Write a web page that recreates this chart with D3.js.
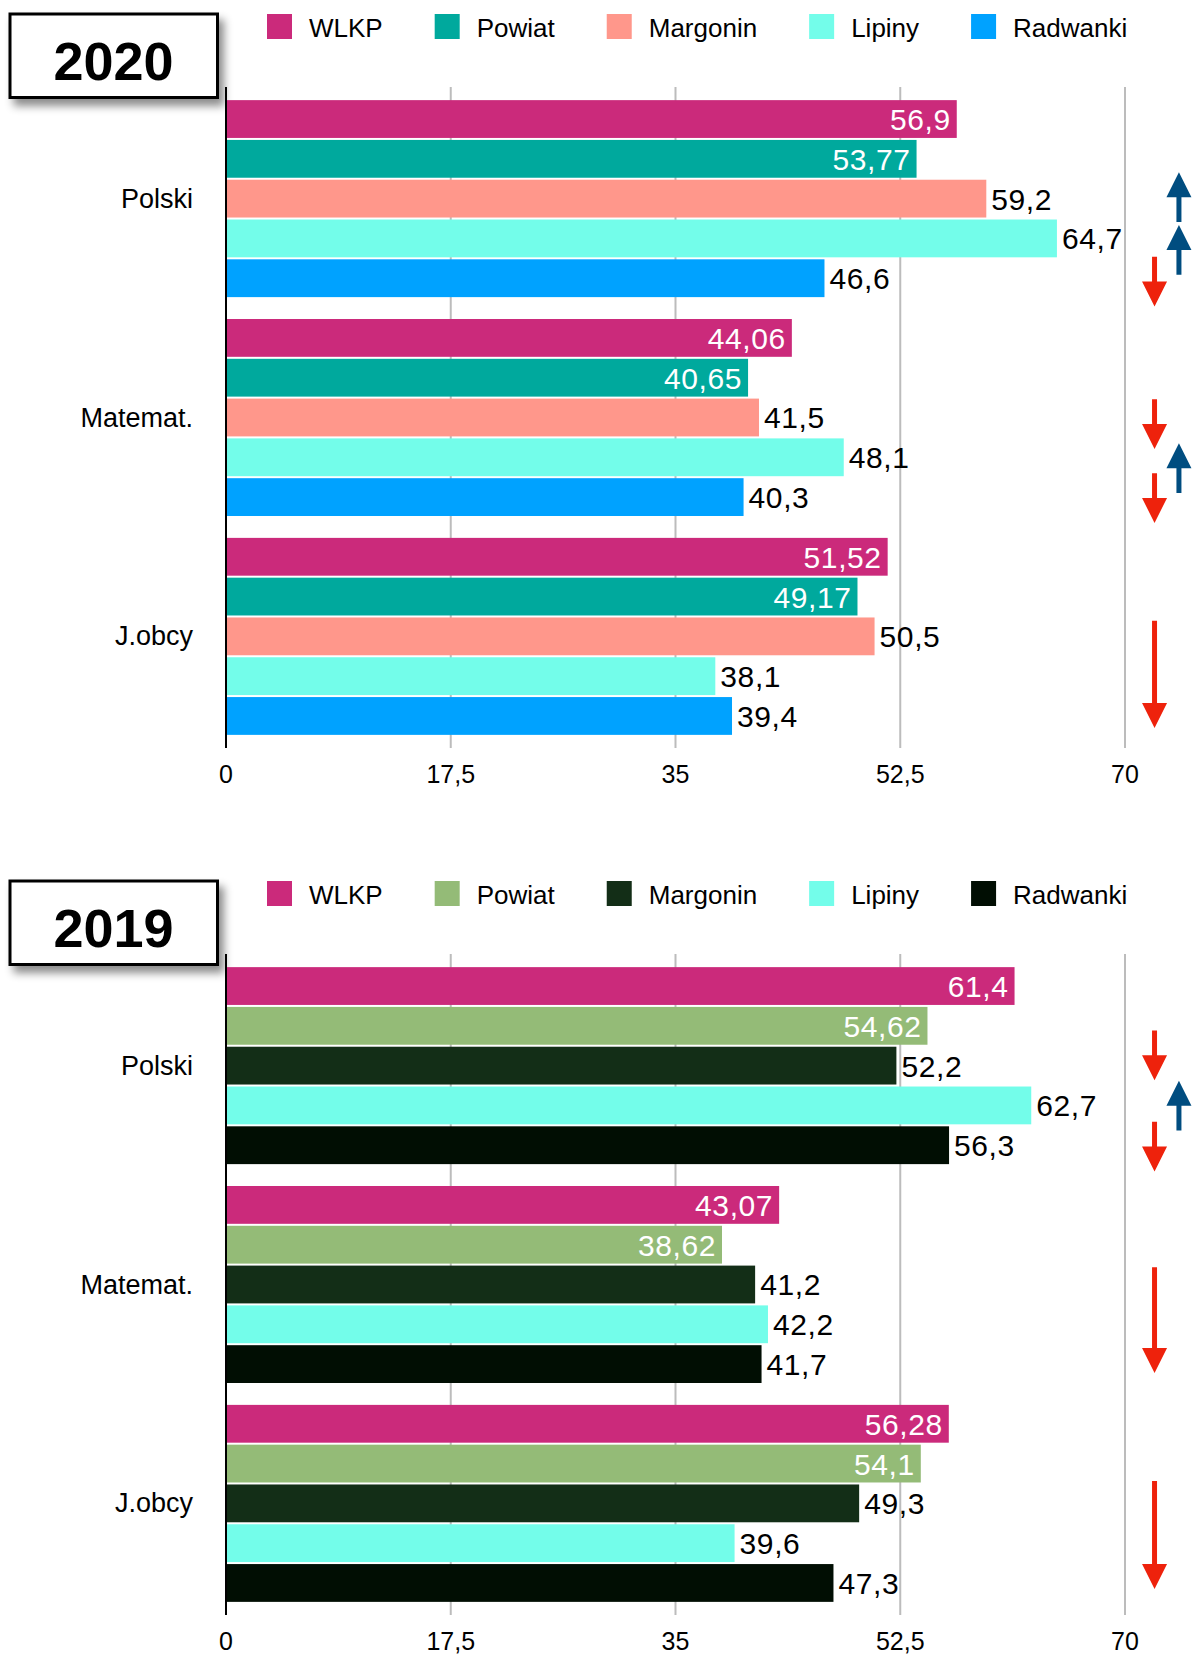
<!DOCTYPE html>
<html><head><meta charset="utf-8">
<script src="https://cdn.jsdelivr.net/npm/d3@7/dist/d3.min.js"></script>
<style>
html,body{margin:0;padding:0;background:#fff;}
svg{display:block;font-family:"Liberation Sans",Arial,Helvetica,sans-serif;}
</style></head><body>
<svg id="chart" width="1193" height="1655"></svg>
<script>
const categories = ["Polski", "Matemat.", "J.obcy"];
const seriesNames = ["WLKP", "Powiat", "Margonin", "Lipiny", "Radwanki"];
const xTicks = [0, 17.5, 35, 52.5, 70];
const xTickLabels = ["0", "17,5", "35", "52,5", "70"];

const years = ["2020", "2019"];
const colors2020 = ["#CB2A7B", "#00A99D", "#FF978B", "#73FDEA", "#00A2FF"];
const colors2019 = ["#CB2A7B", "#94BB77", "#132E17", "#73FDEA", "#010E03"];

// values per category: [WLKP, Powiat, Margonin, Lipiny, Radwanki]
const values2020 = [
  [56.9, 53.77, 59.2, 64.7, 46.6],
  [44.06, 40.65, 41.5, 48.1, 40.3],
  [51.52, 49.17, 50.5, 38.1, 39.4]
];
const values2019 = [
  [61.4, 54.62, 52.2, 62.7, 56.3],
  [43.07, 38.62, 41.2, 42.2, 41.7],
  [56.28, 54.1, 49.3, 39.6, 47.3]
];
const labels2020 = [
  ["56,9", "53,77", "59,2", "64,7", "46,6"],
  ["44,06", "40,65", "41,5", "48,1", "40,3"],
  ["51,52", "49,17", "50,5", "38,1", "39,4"]
];
const labels2019 = [
  ["61,4", "54,62", "52,2", "62,7", "56,3"],
  ["43,07", "38,62", "41,2", "42,2", "41,7"],
  ["56,28", "54,1", "49,3", "39,6", "47,3"]
];
// trend arrows: category index, centre position (in bar slots), length (in bar slots), direction
const arrows2020 = [
  {cat: 0, pos: 2.44, len: 1.25, dir: "up"},
  {cat: 0, pos: 3.76, len: 1.25, dir: "up"},
  {cat: 0, pos: 4.56, len: 1.25, dir: "down"},
  {cat: 1, pos: 2.64, len: 1.25, dir: "down"},
  {cat: 1, pos: 3.75, len: 1.25, dir: "up"},
  {cat: 1, pos: 4.50, len: 1.25, dir: "down"},
  {cat: 2, pos: 3.43, len: 2.69, dir: "down"}
];
const arrows2019 = [
  {cat: 0, pos: 2.22, len: 1.25, dir: "down"},
  {cat: 0, pos: 3.48, len: 1.25, dir: "up"},
  {cat: 0, pos: 4.51, len: 1.25, dir: "down"},
  {cat: 1, pos: 3.37, len: 2.66, dir: "down"},
  {cat: 2, pos: 3.27, len: 2.71, dir: "down"}
];

const svg = d3.select("#chart");
const defs = svg.append("defs");
const f = defs.append("filter").attr("id", "shadow").attr("x", "-20%").attr("y", "-20%").attr("width", "150%").attr("height", "160%");
f.append("feDropShadow").attr("dx", 5).attr("dy", 7).attr("stdDeviation", 4).attr("flood-color", "#000").attr("flood-opacity", 0.45);

const x = d3.scaleLinear().domain([0, 70]).range([226, 1125]);
const y0 = d3.scaleBand().domain(categories).range([87, 748]).paddingInner(0.1).paddingOuter(0.06);
const y1 = d3.scaleBand().domain(seriesNames).range([0, y0.bandwidth()]).paddingInner(0.05);
const slot = y1.step();

function drawPanel(offY, year, colors, values, labels, arrows) {
  const g = svg.append("g").attr("transform", `translate(0,${offY})`);

  // title box
  g.append("rect").attr("x", 10).attr("y", 14).attr("width", 207.5).attr("height", 83.5)
    .attr("fill", "#fff").attr("stroke", "#000").attr("stroke-width", 3).attr("filter", "url(#shadow)");
  g.append("text").attr("x", 113.5).attr("y", 80).attr("text-anchor", "middle")
    .attr("font-size", 54).attr("font-weight", "bold").attr("fill", "#000").text(year);

  // legend
  const leg = g.append("g");
  let lx = 267;
  seriesNames.forEach((s, i) => {
    leg.append("rect").attr("x", lx).attr("y", 14).attr("width", 25).attr("height", 25).attr("fill", colors[i]);
    const t = leg.append("text").attr("x", lx + 42).attr("y", 37).attr("font-size", 26).attr("fill", "#000").text(s);
    const w = t.node().getComputedTextLength();
    lx = lx + 42 + w + 52;
  });

  // gridlines
  g.selectAll(".grid").data(xTicks.slice(1)).join("line")
    .attr("x1", d => x(d)).attr("x2", d => x(d))
    .attr("y1", 87).attr("y2", 748)
    .attr("stroke", "#bcbcbc").attr("stroke-width", 2);

  // tick labels
  g.selectAll(".tick").data(xTicks).join("text")
    .attr("x", d => x(d)).attr("y", 783).attr("text-anchor", "middle")
    .attr("font-size", 25).attr("fill", "#000")
    .text((d, i) => xTickLabels[i]);

  // bars
  categories.forEach((c, ci) => {
    const gg = g.append("g").attr("transform", `translate(0,${y0(c)})`);
    seriesNames.forEach((s, si) => {
      const v = values[ci][si];
      gg.append("rect").attr("x", x(0)).attr("y", y1(s))
        .attr("width", x(v) - x(0)).attr("height", y1.bandwidth()).attr("fill", colors[si]);
      const inside = si < 2;
      gg.append("text")
        .attr("x", inside ? x(v) - 6 : x(v) + 5)
        .attr("y", y1(s) + y1.bandwidth() / 2 + 11)
        .attr("text-anchor", inside ? "end" : "start")
        .attr("font-size", 30).attr("letter-spacing", "0.6px")
        .attr("fill", inside ? "#fff" : "#000")
        .text(labels[ci][si]);
    });
    g.append("text").attr("x", 193).attr("y", y0(c) + y0.bandwidth() / 2 + 9)
      .attr("text-anchor", "end").attr("font-size", 27).attr("fill", "#000").text(c);
  });

  // axis line
  g.append("line").attr("x1", x(0)).attr("x2", x(0)).attr("y1", 87).attr("y2", 748)
    .attr("stroke", "#000").attr("stroke-width", 2);

  // arrows
  arrows.forEach(a => {
    const cy = y0(categories[a.cat]) + a.pos * slot;
    const L = a.len * slot;
    const top = cy - L / 2, bot = cy + L / 2;
    const up = a.dir === "up";
    const cx = up ? x(74.2) : x(72.3);
    const col = up ? "#004D80" : "#EE220C";
    const hw = 12.5, hl = 25, sw = 2.5;
    let pts;
    if (up) {
      pts = [[cx, top], [cx + hw, top + hl], [cx + sw, top + hl], [cx + sw, bot], [cx - sw, bot], [cx - sw, top + hl], [cx - hw, top + hl]];
    } else {
      pts = [[cx, bot], [cx + hw, bot - hl], [cx + sw, bot - hl], [cx + sw, top], [cx - sw, top], [cx - sw, bot - hl], [cx - hw, bot - hl]];
    }
    g.append("polygon").attr("points", pts.map(p => p.join(",")).join(" ")).attr("fill", col);
  });
}

drawPanel(0, years[0], colors2020, values2020, labels2020, arrows2020);
drawPanel(867, years[1], colors2019, values2019, labels2019, arrows2019);
</script>
</body></html>
